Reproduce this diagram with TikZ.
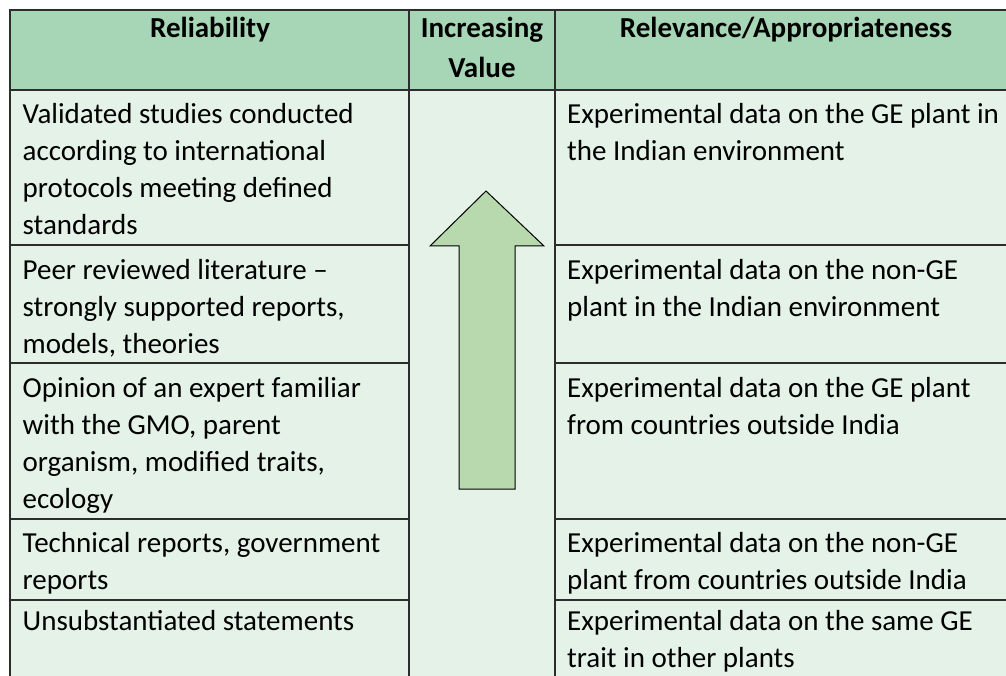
\documentclass[tikz,border=0pt]{standalone}
\usepackage{fontspec}
\setmainfont{Carlito}
\definecolor{hdr}{RGB}{166,214,181}
\definecolor{bodyc}{RGB}{228,242,232}
\definecolor{arrowfill}{RGB}{183,217,173}
\definecolor{rulec}{RGB}{45,45,45}
\begin{document}
\begin{tikzpicture}[x=1pt,y=-1pt,
  cell/.style={anchor=north west, inner sep=0pt, align=left, font=\fontsize{29}{37}\selectfont},
  head/.style={anchor=north, inner sep=0pt, align=center, font=\fontsize{29}{40}\selectfont\bfseries},
  gridline/.style={draw=rulec, line width=1.8pt},
  arrowbox/.style={fill=arrowfill, draw=black, line width=1pt, line join=miter}]
\useasboundingbox (0,0) rectangle (1006,676);
\begin{scope}
\clip (0,0) rectangle (1006,676);
\fill[bodyc] (10,90) rectangle (1020,700);
\fill[hdr] (10,10) rectangle (1020,90);
\draw[gridline] (10,700) -- (10,10) -- (1020,10);
\draw[gridline] (10,90) -- (1020,90);
\draw[gridline] (409,10) -- (409,700);
\draw[gridline] (555,10) -- (555,700);
\foreach \y in {245,363,519,600} {
  \draw[gridline] (10,\y) -- (409,\y);
  \draw[gridline] (555,\y) -- (1020,\y);
}
\draw[arrowbox] (486,191) -- (544,246) -- (515,246) -- (515,489) -- (459,489) -- (459,246) -- (430,246) -- cycle;

\node[head] (h1) at (210,9) {\strut Reliability};
\node[head] (h2) at (482,9) {\strut Increasing\\Value};
\node[head] (h3) at (786,9) {\strut Relevance/Appropriateness};

\node[cell] (l1) at (22.5,97.1) {\strut Validated studies conducted\\according to international\\protocols meeting defined\\standards};
\node[cell] (l2) at (22.5,253.1) {\strut Peer reviewed literature –\\strongly supported reports,\\models, theories};
\node[cell] (l3) at (22.5,371.1) {\strut Opinion of an expert familiar\\with the GMO, parent\\organism, modified traits,\\ecology};
\node[cell] (l4) at (22.5,526.1) {\strut Technical reports, government\\reports};
\node[cell] (l5) at (22.5,604.1) {\strut Unsubstantiated statements};

\node[cell] (r1) at (567,97.1) {\strut Experimental data on the GE plant in\\the Indian environment};
\node[cell] (r2) at (567,253.1) {\strut Experimental data on the non-GE\\plant in the Indian environment};
\node[cell] (r3) at (567,371.1) {\strut Experimental data on the GE plant\\from countries outside India};
\node[cell] (r4) at (567,526.1) {\strut Experimental data on the non-GE\\plant from countries outside India};
\node[cell] (r5) at (567,604.1) {\strut Experimental data on the same GE\\trait in other plants};
\end{scope}
\end{tikzpicture}
\end{document}
